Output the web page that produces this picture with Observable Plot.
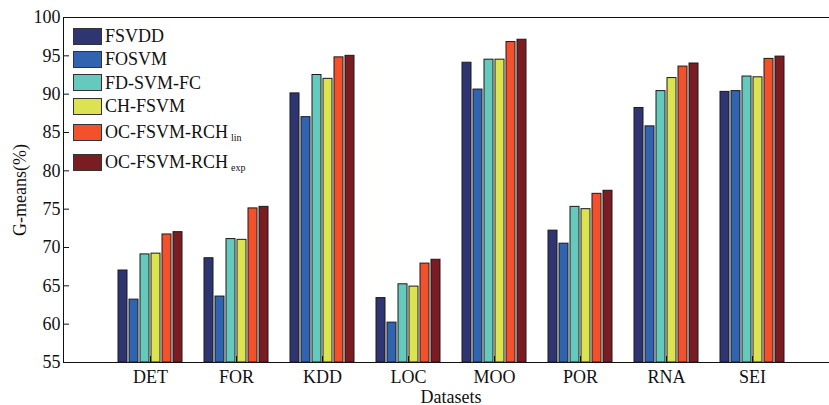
<!DOCTYPE html>
<html><head><meta charset="utf-8">
<script src="https://cdn.jsdelivr.net/npm/d3@7"></script>
<script src="https://cdn.jsdelivr.net/npm/@observablehq/plot@0.6"></script>
<style>
html,body{margin:0;padding:0;background:#fff;overflow:hidden}
#wrap{position:relative;width:829px;height:405px;overflow:hidden;font-family:"Liberation Serif","Times New Roman",serif}
#wrap svg{overflow:hidden;display:block}
#wrap svg.bars{position:absolute;left:0;top:0}
#legend{position:absolute;left:73px;top:24.5px}
.row{display:flex;align-items:center;height:23.3px;font-size:18px;color:#111;line-height:1;white-space:nowrap}
.sw{width:29px;height:17px;border:1px solid #333;margin-right:3px;box-sizing:border-box}
.sub{font-size:10px;position:relative;top:6px;margin-left:3px}
</style></head><body><div id="wrap"></div>
<script>
const datasets = ["DET","FOR","KDD","LOC","MOO","POR","RNA","SEI"];
const methods = ["FSVDD","FOSVM","FD-SVM-FC","CH-FSVM","OC-FSVM-RCHlin","OC-FSVM-RCHexp"];
const legendNames = ["FSVDD","FOSVM","FD-SVM-FC","CH-FSVM","OC-FSVM-RCH","OC-FSVM-RCH"];
const legendSubs = ["","","","","lin","exp"];
const colors = ["#2e3570","#3063b0","#66c9bd","#dce350","#f2512b","#7a1c22"];
const yTicks = [55,60,65,70,75,80,85,90,95,100];

const fsvdd   = [67.0, 68.6, 90.1, 63.4, 94.1, 72.2, 88.2, 90.3];
const fosvm   = [63.2, 63.6, 87.0, 60.2, 90.6, 70.5, 85.8, 90.4];
const fdsvmfc = [69.1, 71.1, 92.5, 65.2, 94.5, 75.3, 90.4, 92.3];
const chfsvm  = [69.2, 71.0, 92.0, 64.9, 94.5, 75.0, 92.1, 92.2];
const rchLin  = [71.7, 75.1, 94.8, 67.9, 96.8, 77.0, 93.6, 94.6];
const rchExp  = [72.0, 75.3, 95.0, 68.4, 97.1, 77.4, 94.0, 94.9];
const series = [fsvdd, fosvm, fdsvmfc, chfsvm, rchLin, rchExp];

const data = datasets.flatMap((d, i) => methods.map((m, j) => ({dataset: d, method: m, value: series[j][i]})));

const common = {
  width: 829, height: 405,
  marginLeft: 63, marginRight: -9, marginTop: 17, marginBottom: 43,
};
const yDomain = [yTicks[0], yTicks[yTicks.length - 1]];

// Base: axes and frame
const base = Plot.plot({
  ...common,
  style: {fontFamily: "'Liberation Serif', 'Times New Roman', serif", fontSize: "18px", color: "#111", background: "white"},
  x: {type: "band", domain: datasets, paddingInner: 0, paddingOuter: 0.5},
  y: {domain: yDomain},
  marks: [
    Plot.axisX({tickSize: -6, tickFormat: () => "", label: null}),
    Plot.axisX({tickSize: 0, tickPadding: 8, fontSize: 18, label: "Datasets", labelAnchor: "center", labelArrow: "none", labelOffset: 40}),
    Plot.axisY({ticks: yTicks, tickSize: -6, tickFormat: () => "", label: null}),
    Plot.axisY({ticks: yTicks, tickSize: 0, tickPadding: 3, fontSize: 18, label: "G-means(%)", labelAnchor: "center", labelArrow: "none", labelOffset: 50}),
    Plot.frame({stroke: "#111"})
  ]
});

// Bars: grouped with fx facets
const bars = Plot.plot({
  ...common,
  style: {background: "transparent"},
  fx: {domain: datasets, paddingInner: 0, paddingOuter: 0.5, axis: null},
  x: {domain: methods, paddingInner: 0.18, paddingOuter: 0.87, axis: null},
  y: {domain: yDomain, axis: null},
  color: {domain: methods, range: colors},
  marks: [
    Plot.barY(data, {fx: "dataset", x: "method", y1: yDomain[0], y2: "value", fill: "method", stroke: "#1a1a1a", strokeWidth: 1})
  ]
});
bars.classList.add("bars");

const wrap = document.getElementById("wrap");
wrap.appendChild(base);
wrap.appendChild(bars);

const legend = document.createElement("div");
legend.id = "legend";
legendNames.forEach((name, i) => {
  const row = document.createElement("div");
  row.className = "row";
  if (i === 4) row.style.marginTop = "2.7px";
  if (i === 5) row.style.marginTop = "6.7px";
  const sw = document.createElement("div");
  sw.className = "sw";
  sw.style.background = colors[i];
  row.appendChild(sw);
  const t = document.createElement("span");
  t.textContent = name;
  row.appendChild(t);
  if (legendSubs[i]) {
    const s = document.createElement("span");
    s.className = "sub";
    s.textContent = legendSubs[i];
    row.appendChild(s);
  }
  legend.appendChild(row);
});
wrap.appendChild(legend);
</script></body></html>
